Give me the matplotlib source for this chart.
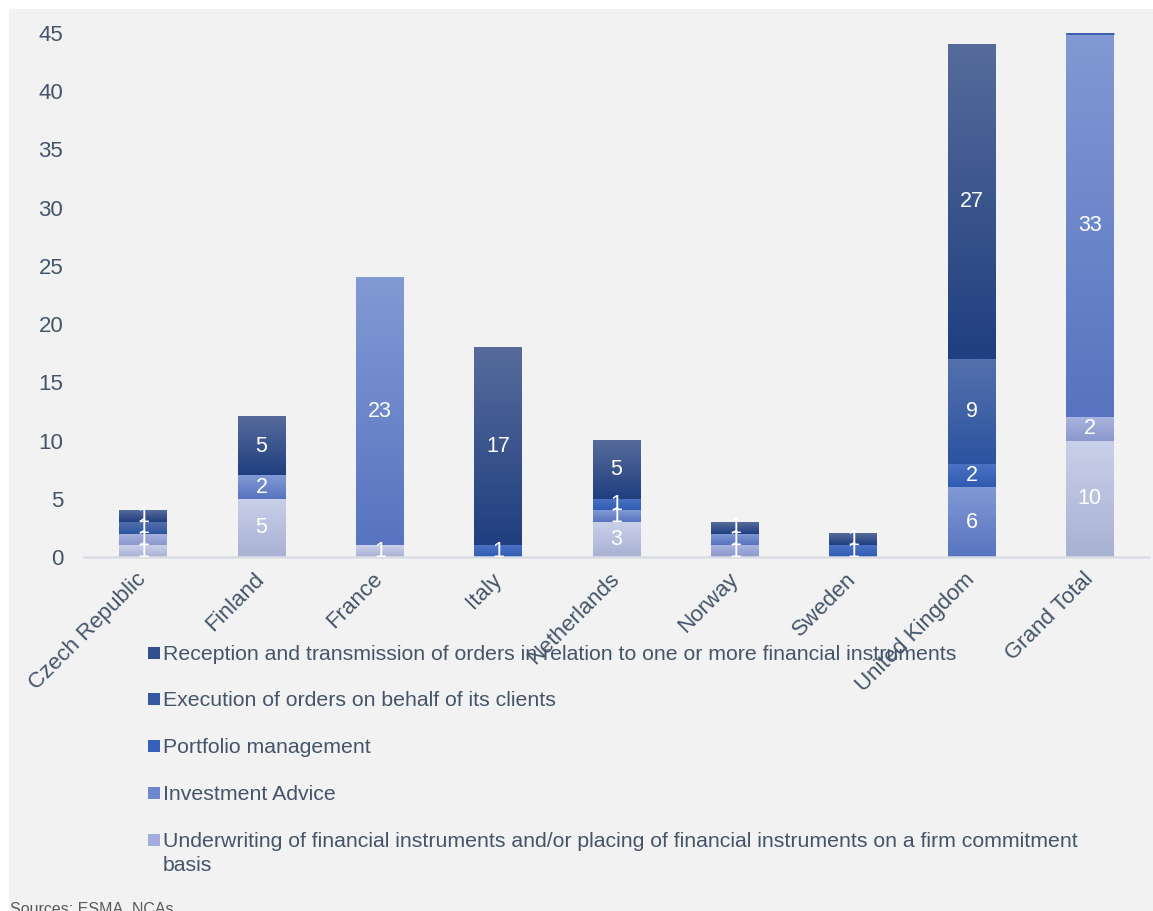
import numpy as np
import matplotlib
matplotlib.use("Agg")
import matplotlib.pyplot as plt
from matplotlib.colors import LinearSegmentedColormap
from matplotlib.patches import Rectangle

plt.rcParams["font.family"] = ["Liberation Sans", "DejaVu Sans"]

countries = ["Czech Republic", "Finland", "France", "Italy", "Netherlands",
             "Norway", "Sweden", "United Kingdom", "Grand Total"]

# services per country, stacked from the bottom up
other_placing = [1, 5, 1, 0, 3, 0, 0, 0, 10]
underwriting = [1, 0, 0, 0, 0, 1, 0, 0, 2]
advice = [0, 2, 23, 0, 1, 1, 0, 6, 33]
portfolio = [0, 0, 0, 1, 1, 0, 1, 2, 0]
execution = [1, 0, 0, 0, 0, 0, 0, 9, 0]
reception = [1, 5, 0, 17, 5, 1, 1, 27, 0]

legend_labels = [
    "Reception and transmission of orders in relation to one or more financial instruments",
    "Execution of orders on behalf of its clients",
    "Portfolio management",
    "Investment Advice",
    "Underwriting of financial instruments and/or placing of financial instruments on a firm commitment\nbasis",
]

series = [other_placing, underwriting, advice, portfolio, execution, reception]
# (top, bottom) colour of each segment's gradient
grad_colors = [
    ("#c9d0e9", "#a9b1d4"),
    ("#a9b3df", "#8a98cc"),
    ("#8199d4", "#5874c0"),
    ("#4c72c4", "#2f5cb2"),
    ("#5470ac", "#2b54a0"),
    ("#566b9b", "#203f80"),
]
legend_colors = ["#33508e", "#3558a2", "#3661bb", "#6d88cf", "#a3acdc"]

W, H = 1153, 911
fig = plt.figure(figsize=(W / 100, H / 100), dpi=100)
fig.patch.set_facecolor("white")
fig.add_artist(Rectangle((9 / W, 0), 1, 902 / H, transform=fig.transFigure,
                         facecolor="#f2f2f2", edgecolor="none", zorder=-1))

ax = fig.add_axes([84 / W, 354 / H, 1065 / W, 524 / H])
ax.set_facecolor("none")

x = np.arange(len(countries))
width = 0.405
bottom = np.zeros(len(countries))
for vals, (c_top, c_bot) in zip(series, grad_colors):
    vals = np.array(vals, dtype=float)
    bars = ax.bar(x, vals, width=width, bottom=bottom, facecolor="none",
                  edgecolor="none", zorder=2)
    cmap = LinearSegmentedColormap.from_list("seg", [c_bot, c_top])
    for rect, v in zip(bars, vals):
        if v == 0:
            continue
        x0, y0 = rect.get_x(), rect.get_y()
        ax.imshow(np.linspace(0, 1, 64).reshape(-1, 1), origin="lower",
                  extent=[x0, x0 + rect.get_width(), y0, y0 + v],
                  aspect="auto", cmap=cmap, zorder=2, interpolation="bilinear")
    labels = [str(int(v)) if v else "" for v in vals]
    ax.bar_label(bars, labels=labels, label_type="center", color="white",
                 fontsize=15.5, zorder=4)
    bottom += vals

# thin blue cap on the grand total column
gt = len(countries) - 1
ax.plot([gt - width / 2, gt + width / 2], [bottom[gt], bottom[gt]],
        color="#3a5cac", lw=2, zorder=3, solid_capstyle="butt")

ax.set_xlim(-0.5, len(countries) - 0.5)
ax.set_ylim(0, 45)
ax.set_yticks(np.arange(0, 46, 5))
ax.set_xticks(x)
ax.set_xticklabels(countries, rotation=45, ha="right", va="center",
                   rotation_mode="anchor")
for side in ["top", "right", "left"]:
    ax.spines[side].set_visible(False)
ax.spines["bottom"].set_color("#d9dde3")
ax.spines["bottom"].set_linewidth(1.8)
ax.tick_params(axis="both", length=0, labelcolor="#44546a", labelsize=16)
ax.tick_params(axis="y", pad=15)
ax.tick_params(axis="x", pad=14)

# legend below the plot, one text per line so the wrapped entry keeps its rows
legend_y = [653, 699, 746, 793, 840]
for lab, col, yy in zip(legend_labels, legend_colors, legend_y):
    fig.add_artist(Rectangle((148 / W, 1 - (yy + 6) / H), 12 / W, 12 / H,
                             transform=fig.transFigure, facecolor=col,
                             edgecolor="none"))
    for i, line in enumerate(lab.split("\n")):
        fig.text(163 / W, 1 - (yy + 7 + 24 * i) / H, line, va="baseline",
                 ha="left", fontsize=15.3, color="#44546a")

fig.text(10 / W, 1 - 902 / H, "Sources: ESMA, NCAs", va="top", ha="left",
         fontsize=11.5, color="#595959")

fig.savefig("out.png", dpi=100)
